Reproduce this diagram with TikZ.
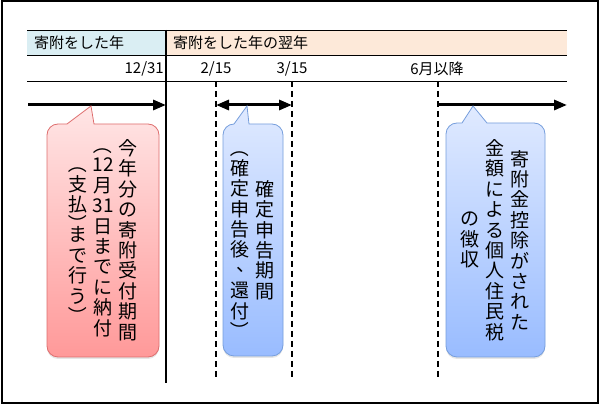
\documentclass[tikz,border=0pt]{standalone}
\usepackage{graphicx}
\usepackage{fontspec}
\setmainfont{Noto Sans CJK JP}
\usetikzlibrary{arrows.meta,shadows}

\definecolor{prevband}{RGB}{218,238,243}
\definecolor{nextband}{RGB}{253,233,217}
\definecolor{pinktop}{RGB}{255,230,230}
\definecolor{pinkbot}{RGB}{255,153,153}
\definecolor{pinkline}{RGB}{222,110,110}
\definecolor{bluetop}{RGB}{224,234,255}
\definecolor{bluebot}{RGB}{153,188,255}
\definecolor{blueline}{RGB}{118,158,220}

% vertical-writing brackets and comma
\newcommand\vpo{\raisebox{21.2pt}[0pt][0pt]{\rotatebox{-90}{（}}}
\newcommand\vpc{\raisebox{12.2pt}[0pt][0pt]{\rotatebox{-90}{）}}}
\newcommand\vcm{\makebox[1em][l]{\hspace{0.3em}\raisebox{0.3em}[0pt][0pt]{\makebox[0pt][l]{、}}}}

\tikzset{
  bandtext/.style={font=\fontsize{15}{18}\selectfont, anchor=west, inner sep=0pt},
  datelabel/.style={font=\fontsize{15}{18}\selectfont, inner sep=0pt},
  vcol/.style={font=\fontsize{19}{20.4}\selectfont, align=center, inner sep=0pt},
  guide/.style={line width=1.2pt, dash pattern=on 6pt off 4pt},
  termarrow/.style={line width=3pt, -{Triangle[length=13pt,width=10pt]}},
  bubble/.style={line width=0.8pt, drop shadow={opacity=0.2, shadow xshift=0pt, shadow yshift=-2pt}},
  pinkbubble/.style={bubble, draw=pinkline, top color=pinktop, bottom color=pinkbot},
  bluebubble/.style={bubble, draw=blueline, top color=bluetop, bottom color=bluebot}
}

% callout: style, left, bottom, right, top, pointer base left, tip x, pointer base right
\newcommand\callout[8]{%
  \path[#1] (#8,#5) -- ({#4-11},#5) arc[start angle=90, end angle=0, radius=11pt]
    -- (#4,{#3+11}) arc[start angle=0, end angle=-90, radius=11pt]
    -- ({#2+11},#3) arc[start angle=270, end angle=180, radius=11pt]
    -- (#2,{#5-11}) arc[start angle=180, end angle=90, radius=11pt]
    -- (#6,#5) -- (#7,300) -- cycle;}

\begin{document}
\begin{tikzpicture}[x=1pt, y=1pt]
  \useasboundingbox (0,0) rectangle (600,406);

  % Outer frame
  \draw[line width=2pt] (1.5,3) rectangle (598,404.5);

  % Year bands
  \fill[prevband] (27,351) rectangle (166,376);
  \fill[nextband] (166,351) rectangle (567,376);
  \draw (27,376) -- (567,376);
  \draw (27,351) -- (567,351);
  \draw (27,325) -- (567,325);
  \node[bandtext] (thisYear) at (34,363) {寄附をした年};
  \node[bandtext] (nextYear) at (173,363) {寄附をした年の翌年};

  % Dates
  \node[datelabel, anchor=east] (dec31) at (164,337) {12/31};
  \node[datelabel] (feb15) at (216,337) {2/15};
  \node[datelabel] (mar15) at (292,337) {3/15};
  \node[datelabel] (june) at (437,337) {6月以降};

  % Year boundary and deadlines
  \draw[line width=1.2pt] (166,376) -- (166,23);
  \draw[guide] (216,325) -- (216,26);
  \draw[guide] (292,325) -- (292,26);
  \draw[guide] (438,325) -- (438,26);

  % Periods
  \coordinate (giftStart) at (28,301);
  \coordinate (giftEnd) at (166,301);
  \coordinate (fileStart) at (216,301);
  \coordinate (fileEnd) at (292,301);
  \coordinate (taxStart) at (438,301);
  \coordinate (taxEnd) at (567,301);
  \draw[termarrow] (giftStart) -- (giftEnd);
  \draw[termarrow, {Triangle[length=13pt,width=10pt]}-{Triangle[length=13pt,width=10pt]}] (fileStart) -- (fileEnd);
  \draw[termarrow] (taxStart) -- (taxEnd);

  % Callouts
  \callout{pinkbubble}{47}{49}{159}{282}{67}{91}{94}
  \callout{bluebubble}{223}{50}{283}{282}{234}{247}{249}
  \callout{bluebubble}{446}{49}{545}{283}{462}{473}{487}

  % Vertical texts, right column first
  \node[vcol] (giftA) at (128,166) {今\\年\\分\\の\\寄\\附\\受\\付\\期\\間};
  \node[vcol] (giftB) at (103,159.4) {\vpo\\[-5.2pt]12\\月\\31\\日\\ま\\で\\に\\納\\付};
  \node[vcol] (giftC) at (78,158.8) {\vpo\\[-5.2pt]支\\払\\[-5.2pt]\vpc\\[-5.2pt]ま\\で\\行\\う\\[-5.2pt]\vpc};
  \node[vcol] (fileA) at (265,166) {確\\定\\申\\告\\期\\間};
  \node[vcol] (fileB) at (240,159.3) {\vpo\\[-5.2pt]確\\定\\申\\告\\後\\\vcm\\還\\付\\[-5.2pt]\vpc};
  \node[vcol] (taxA) at (520,166) {寄\\附\\金\\控\\除\\が\\さ\\れ\\た};
  \node[vcol] (taxB) at (495,166) {金\\額\\に\\よ\\る\\個\\人\\住\\民\\税};
  \node[vcol] (taxC) at (470,166) {の\\徴\\収};
\end{tikzpicture}
\end{document}
